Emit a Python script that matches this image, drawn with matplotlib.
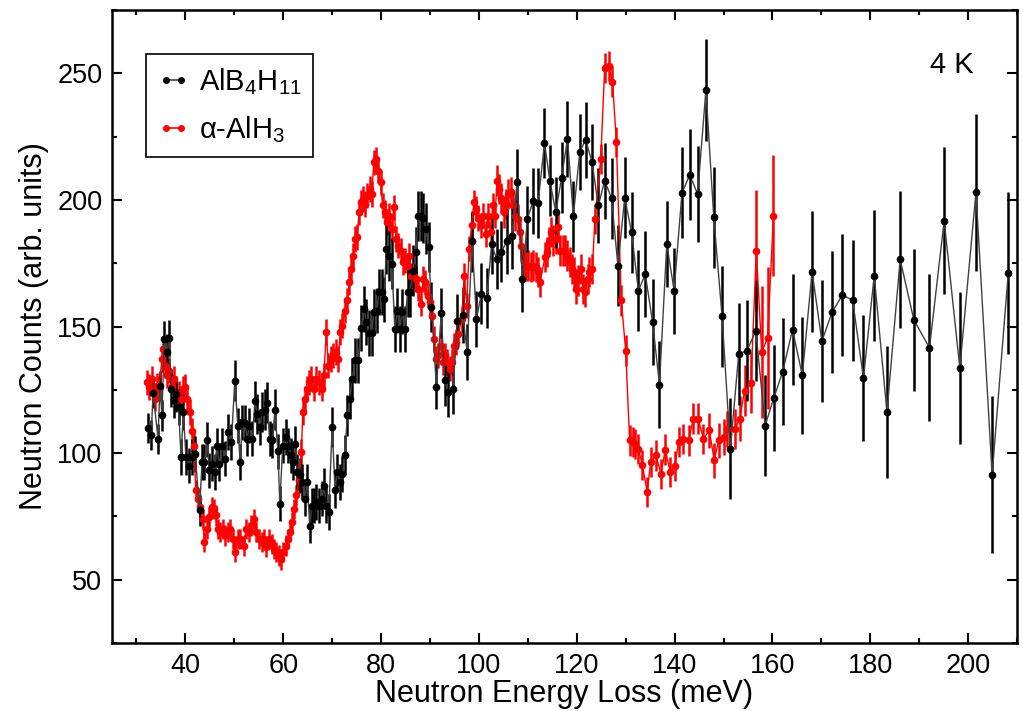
import matplotlib
matplotlib.use("Agg")
import matplotlib.pyplot as plt
from matplotlib.lines import Line2D
from matplotlib.ticker import MultipleLocator

plt.rcParams['font.family'] = ['Liberation Sans', 'DejaVu Sans']
plt.rcParams['mathtext.fontset'] = 'custom'
plt.rcParams['mathtext.rm'] = 'Liberation Sans'
plt.rcParams['mathtext.it'] = 'Liberation Sans:italic'
plt.rcParams['mathtext.default'] = 'regular'

# AlB4H11 spectrum (energy loss in meV, counts, error)
black_e = [32.3, 33.0, 33.4, 34.4, 34.8, 35.2, 35.7, 36.2, 36.7, 37.1, 37.6, 38.1, 38.6, 39.1, 39.6,
           40.1, 40.7, 41.3, 42.0, 42.9, 43.4, 43.9, 44.4, 44.9, 45.4, 46.0, 46.4, 46.9, 47.5, 48.1,
           48.8, 49.4, 50.1, 50.7, 51.2, 51.6, 52.2, 52.6, 53.1, 53.7, 54.2, 54.7, 55.2, 55.7, 56.3,
           56.7, 57.2, 57.8, 58.3, 58.9, 59.3, 59.9, 60.5, 61.0, 61.5, 62.0, 62.4, 62.9, 63.4, 63.9,
           64.4, 64.9, 65.4, 65.8, 66.3, 66.7, 67.3, 67.9, 68.3, 68.8, 69.3, 70.0, 70.6, 71.0, 71.5,
           72.1, 72.6, 73.1, 73.6, 74.1, 74.7, 75.3, 75.9, 76.5, 77.0, 77.5, 78.1, 78.5, 79.1, 79.6,
           80.1, 80.6, 81.1, 81.6, 82.2, 82.8, 83.3, 83.8, 84.3, 84.8, 85.4, 85.9, 86.5, 87.1, 87.6,
           88.1, 88.6, 89.1, 89.7, 90.3, 91.3, 92.3, 93.0, 93.7, 94.7, 95.6, 96.7, 97.6, 98.6, 99.5,
           100.5, 101.6, 102.6, 103.6, 104.6, 105.7, 106.7, 107.8, 108.9, 109.9, 111.1, 112.1, 113.4,
           114.5, 115.7, 116.9, 118.1, 119.3, 120.6, 121.8, 123.1, 124.4, 125.7, 127.1, 128.4, 129.8,
           131.2, 132.6, 134.0, 135.5, 136.9, 138.4, 139.9, 141.5, 143.1, 144.7, 146.4, 148.0, 149.7,
           151.4, 153.1, 154.8, 156.6, 158.5, 160.3, 162.1, 164.1, 166.1, 168.1, 170.1, 172.2, 174.3,
           176.4, 178.6, 180.8, 183.4, 186.1, 188.9, 192.1, 195.1, 198.3, 201.6, 204.9, 208.2]
black_y = [109.9, 107.2, 123.8, 105.7, 126.5, 114.9, 145.1, 139.9, 145.4, 125.4, 120.8, 123.4, 118.2, 98.4, 116.2,
           98.4, 95.1, 98.4, 99.7, 77.4, 96.5, 96.5, 105.3, 93.2, 95.8, 92.5, 103.0, 95.8, 103.0, 97.8,
           108.3, 104.4, 128.6, 110.9, 96.5, 112.2, 112.0, 105.7, 110.9, 105.7, 120.4, 115.5, 110.3, 116.2, 117.2,
           119.9, 105.7, 105.0, 117.2, 100.7, 80.0, 103.0, 106.3, 103.0, 99.1, 96.5, 103.7, 92.5, 91.2, 88.6,
           82.0, 88.6, 71.4, 79.3, 79.3, 80.7, 79.3, 82.0, 87.2, 79.3, 76.7, 110.3, 85.3, 92.5, 88.6,
           91.8, 99.3, 114.9, 121.5, 129.4, 136.6, 136.6, 149.4, 157.0, 151.7, 147.5, 147.5, 155.7, 156.3, 163.6,
           163.6, 160.7, 180.7, 178.0, 174.8, 149.1, 156.3, 149.1, 155.9, 149.1, 163.6, 163.6, 172.1, 179.4, 193.6,
           193.6, 192.8, 188.6, 181.4, 157.7, 126.3, 155.3, 128.7, 124.1, 125.4, 152.0, 154.6, 139.9, 183.6, 153.0,
           162.9, 161.3, 182.6, 176.7, 179.6, 183.6, 185.9, 207.0, 168.6, 192.5, 199.7, 198.8, 222.5,
           207.6, 195.2, 208.8, 224.1, 193.6, 218.8, 223.8, 215.1, 197.8, 207.6, 200.7, 174.1, 200.8,
           187.3, 164.1, 170.7, 151.7, 127.1, 182.6, 164.2, 202.8, 209.9, 202.3, 243.4, 193.2, 154.0,
           101.7, 139.2, 140.5, 148.3, 110.9, 121.9, 132.2, 148.8, 130.7, 171.7, 144.2, 155.7, 162.5,
           160.3, 129.6, 170.1, 116.2, 176.5, 152.6, 141.6, 191.8, 133.6, 203.1, 91.5, 171.2]
black_err = [6, 6, 6, 6, 6, 6, 7, 7, 7, 7, 7, 7, 7, 7, 7,
             7, 7, 7, 7, 6, 7, 7, 7, 7, 7, 7, 7, 7, 7, 7,
             7, 7, 8, 7, 7, 7, 7, 7, 7, 7, 8, 8, 7, 8, 8,
             8, 7, 7, 8, 7, 7, 7, 7, 7, 7, 7, 7, 7, 7, 7,
             7, 7, 7, 7, 7, 7, 7, 7, 7, 7, 7, 8, 7, 7, 7,
             7, 8, 8, 8, 8, 9, 9, 9, 9, 9, 9, 9, 9, 9, 9,
             9, 9, 10, 10, 10, 9, 9, 9, 9, 9, 10, 10, 10, 10, 10,
             10, 10, 10, 10, 10, 9, 10, 10, 10, 10, 11, 11, 11, 12, 11,
             12, 12, 12, 12, 12, 13, 13, 13, 13, 13, 13, 14, 14,
             14, 14, 14, 15, 14, 15, 15, 15, 15, 15, 16, 16, 16,
             16, 16, 17, 17, 17, 17, 17, 18, 18, 19, 20, 20, 20,
             20, 20, 20, 20, 20, 21, 21, 22, 23, 24, 24, 24, 24,
             24, 25, 26, 26, 27, 28, 29, 29, 30, 31, 31, 32]

# alpha-AlH3 spectrum
red_e = [32.1, 32.6, 33.1, 33.7, 34.2, 34.6, 35.2, 35.5, 35.9, 36.2, 36.7, 37.2, 37.7, 38.1, 38.6,
         39.1, 39.5, 40.0, 40.4, 40.9, 41.3, 41.8, 42.1, 42.6, 43.0, 43.5, 43.9, 44.4, 44.9, 45.4,
         45.8, 46.2, 46.6, 47.1, 47.6, 48.1, 48.7, 49.2, 49.7, 50.2, 50.7, 51.2, 52.0, 52.4, 53.0,
         53.5, 54.0, 54.5, 55.0, 55.6, 56.1, 56.5, 57.1, 57.6, 58.1, 58.6, 59.1, 59.6, 60.0, 60.5,
         61.0, 61.4, 61.8, 62.3, 62.7, 63.2, 63.7, 64.0, 64.4, 64.9, 65.3, 65.7, 66.3, 66.7, 67.3,
         67.9, 68.3, 68.8, 69.2, 69.7, 70.2, 70.7, 71.2, 71.7, 72.1, 72.6, 73.0, 73.5, 73.9, 74.3,
         74.7, 75.1, 75.5, 75.8, 76.3, 76.7, 77.2, 77.7, 78.1, 78.5, 79.0, 79.4, 79.9, 80.3, 80.8,
         81.3, 81.7, 82.2, 82.6, 83.1, 83.5, 84.0, 84.5, 84.9, 85.4, 85.8, 86.2, 86.7, 87.2, 87.6,
         88.1, 88.6, 89.0, 89.5, 89.9, 90.4, 90.8, 91.3, 91.7, 92.2, 92.7, 93.1, 93.5, 94.0, 94.4,
         94.9, 95.4, 95.8, 96.5, 97.0, 97.5, 98.0, 98.5, 99.0, 99.5, 99.9, 100.4, 100.8, 101.4, 101.8,
         102.4, 102.8, 103.3, 103.7, 104.2, 104.6, 105.1, 105.6, 106.0, 106.5, 106.9, 107.4, 107.9, 108.3, 108.7,
         109.2, 109.7, 110.1, 110.6, 111.1, 111.6, 112.1, 112.5, 113.5, 113.9, 114.3, 114.8, 115.2, 115.7, 116.2,
         116.6, 117.1, 117.5, 118.1, 118.6, 119.0, 119.5, 119.9, 120.3, 120.8, 121.3, 121.7, 122.2, 122.6, 123.2,
         123.7, 124.9, 125.7, 126.5, 127.3, 128.1, 129.1, 130.0, 130.8, 131.4, 131.9, 132.6, 133.4, 134.4, 135.1,
         136.2, 137.2, 138.1, 139.1, 140.0, 140.8, 141.8, 142.9, 143.8, 144.8, 145.9, 147.1, 148.1, 149.0, 150.0,
         150.8, 152.4, 153.3, 154.3, 155.6, 156.7, 157.8, 159.0, 160.2]
red_y = [128.0, 126.1, 129.4, 121.5, 126.7, 125.4, 137.2, 141.2, 134.6, 130.7, 132.6, 126.7, 129.4, 122.8, 123.4,
         121.5, 125.4, 126.1, 121.5, 116.2, 108.9, 103.0, 85.3, 82.0, 78.7, 74.1, 64.9, 70.1, 74.8, 78.7,
         78.0, 75.4, 70.1, 68.8, 70.1, 67.5, 68.8, 70.1, 66.2, 60.9, 66.2, 66.2, 63.5, 70.1, 68.8,
         71.4, 74.1, 68.8, 66.2, 64.9, 66.2, 62.9, 66.2, 64.2, 62.2, 60.9, 59.6, 58.0, 60.9, 63.5,
         66.2, 68.8, 72.8, 78.0, 83.3, 89.2, 100.4, 116.2, 121.5, 125.4, 128.0, 129.4, 125.4, 129.4, 128.0,
         125.4, 130.7, 147.8, 134.6, 137.2, 138.6, 139.9, 137.2, 147.8, 150.4, 156.3, 160.3, 167.5, 172.8, 178.0,
         184.6, 185.3, 195.1, 199.1, 200.4, 198.4, 201.7, 204.3, 202.3, 214.8, 216.1, 211.5, 206.9, 197.8, 195.1,
         191.2, 193.8, 188.6, 197.1, 184.6, 182.0, 180.0, 175.4, 176.1, 174.1, 178.0, 170.1, 170.1, 168.8, 164.9,
         159.0, 168.8, 167.5, 162.2, 159.6, 154.3, 145.1, 137.2, 138.6, 142.5, 136.0, 138.6, 136.0, 133.3, 136.0,
         142.5, 143.9, 147.1, 153.0, 170.1, 158.3, 180.7, 189.9, 199.1, 196.5, 192.8, 189.9, 193.8, 186.6, 193.8,
         187.3, 197.8, 193.8, 207.6, 204.3, 200.7, 195.1, 198.4, 202.3, 203.0, 197.8, 193.8, 192.5, 187.3, 182.0,
         175.4, 174.1, 174.1, 173.5, 174.1, 173.5, 171.5, 167.5, 177.4, 179.4, 183.3, 187.3, 184.0, 184.6, 189.2,
         180.0, 180.0, 180.0, 178.0, 175.4, 172.8, 171.5, 164.9, 168.2, 172.8, 164.9, 163.6, 168.8, 171.5, 172.8,
         192.5, 216.2, 252.0, 252.8, 246.7, 222.8, 160.3, 140.5, 105.0, 104.3, 103.7, 101.7, 95.4, 84.6, 96.4,
         99.1, 91.8, 101.4, 92.5, 94.8, 104.3, 105.7, 105.0, 113.6, 113.6, 105.7, 109.0, 97.1, 105.0, 106.3,
         109.6, 109.6, 113.6, 124.7, 127.8, 180.0, 139.9, 145.4, 193.8]
red_err = [5, 5, 5, 5, 5, 5, 5, 5, 5, 5, 5, 5, 5, 5, 5,
           5, 5, 5, 5, 5, 5, 5, 4, 4, 4, 4, 4, 4, 4, 4,
           4, 4, 4, 4, 4, 4, 4, 4, 4, 4, 4, 4, 4, 4, 4,
           4, 4, 4, 4, 4, 4, 4, 4, 4, 4, 4, 4, 4, 4, 4,
           4, 4, 4, 4, 4, 5, 5, 5, 5, 5, 5, 5, 5, 5, 5,
           5, 5, 5, 5, 5, 5, 5, 5, 5, 5, 5, 5, 5, 5, 5,
           5, 5, 5, 5, 5, 5, 5, 5, 5, 5, 5, 5, 5, 5, 5,
           5, 5, 5, 5, 5, 5, 5, 5, 5, 5, 5, 5, 5, 5, 5,
           5, 5, 5, 5, 5, 5, 5, 5, 5, 5, 5, 5, 5, 5, 5,
           5, 5, 5, 5, 5, 5, 5, 5, 5, 5, 5, 5, 5, 5, 5,
           5, 5, 5, 6, 6, 6, 6, 6, 6, 6, 6, 6, 6, 6, 6,
           6, 6, 6, 6, 6, 6, 6, 6, 6, 6, 6, 6, 6, 6, 6,
           6, 6, 6, 6, 6, 6, 6, 6, 6, 6, 6, 6, 6, 6, 6,
           6, 6, 6, 6, 6, 6, 6, 6, 6, 6, 6, 6, 6, 6, 6,
           6, 6, 6, 6, 6, 6, 6, 6, 6, 6, 6, 7, 7, 7, 7,
           7, 8, 9, 10, 12, 24, 26, 28, 24]

fig = plt.figure(figsize=(10.23, 7.11), dpi=100)
ax = fig.add_axes([0.1095, 0.0956, 0.8847, 0.8903])

ax.errorbar(red_e, red_y, yerr=red_err, fmt='o-', color='red', ms=4.5, lw=1.0,
            elinewidth=1.8, capsize=0)
ax.errorbar(black_e, black_y, yerr=black_err, fmt='o-', color='#404040', mfc='black',
            mec='black', ecolor='black', ms=4.5, lw=1.0, elinewidth=1.8, capsize=0)

ax.set_xlim(25, 210)
ax.set_ylim(25, 275)
ax.xaxis.set_major_locator(MultipleLocator(20))
ax.xaxis.set_minor_locator(MultipleLocator(10))
ax.yaxis.set_major_locator(MultipleLocator(50))
ax.yaxis.set_minor_locator(MultipleLocator(25))
ax.tick_params(which='both', direction='in', top=True, right=True, width=1.5,
               labelsize=19.5, pad=7)
ax.tick_params(which='major', length=7)
ax.tick_params(which='minor', length=3.5)
for s in ax.spines.values():
    s.set_linewidth(1.8)

ax.set_xlabel('Neutron Energy Loss (meV)', fontsize=22, labelpad=0)
ax.set_ylabel('Neutron Counts (arb. units)', fontsize=22, labelpad=6)
ax.text(0.9525, 0.9005, '4 K', transform=ax.transAxes, fontsize=21, ha='right', va='baseline')

handles = [Line2D([0], [0], color='#404040', marker='o', ms=4, mfc='black', mec='black', lw=1.2),
           Line2D([0], [0], color='red', marker='o', ms=4, lw=1.2)]
leg = ax.legend(handles, ['AlB$_4$H$_{11}$', 'α-AlH$_3$'], loc='upper left',
                bbox_to_anchor=(0.0376, 0.930), fontsize=21, numpoints=2, handlelength=1.1,
                handletextpad=0.3, fancybox=False, edgecolor='black', framealpha=1,
                borderpad=0.4, labelspacing=0.6, borderaxespad=0)
leg.get_frame().set_linewidth(1.2)

fig.savefig('out.png', dpi=100)
